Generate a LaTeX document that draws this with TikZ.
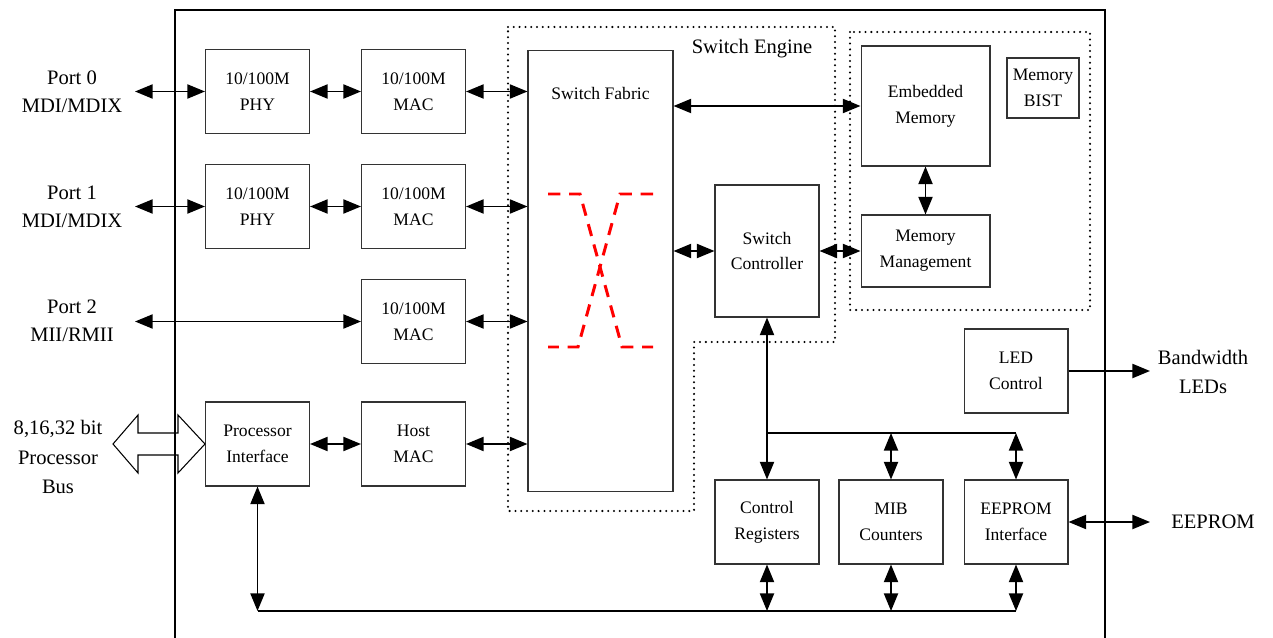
\documentclass[tikz,border=0pt]{standalone}
\usepackage{fontspec}
\setmainfont{Liberation Serif}
\usetikzlibrary{arrows.meta}

\begin{document}
\begin{tikzpicture}[x=0.02cm, y=0.02cm]
\tikzstyle{every node}+=[inner sep=0pt]
\tikzstyle{blk}=[draw=black!80, line width=0.6pt, minimum width=2.08cm, minimum height=1.68cm, align=center, font=\fontsize{10}{14.7}\selectfont]
\tikzstyle{lbl}=[align=center, font=\fontsize{11.7}{16}\selectfont]
\tikzstyle{link}=[line width=1pt, {Triangle[length=10pt,width=8pt]}-{Triangle[length=10pt,width=8pt]}]
\tikzstyle{dots}=[line width=1.3pt, dash pattern=on 0pt off 3.3pt, line cap=round]
\tikzstyle{xline}=[red, line width=1.7pt, dash pattern=on 7pt off 5pt]
\useasboundingbox (0,0) rectangle (1273,-638);
\draw [black, line width=1.2pt] (175,-638) -- (175,-10) -- (1105,-10) -- (1105,-638);
\draw [dots] (508,-27) -- (835,-27) -- (835,-342) -- (694,-342) -- (694,-511) -- (508,-511) -- cycle;
\draw [dots] (850,-32) rectangle (1090,-310);
\node [lbl] (engine) at (752,-49) {Switch Engine};
\node [blk] (phy0) at (257.5,-91.5) {10/100M\\PHY};
\node [blk] (mac0) at (413.5,-91.5) {10/100M\\MAC};
\node [blk] (phy1) at (257.5,-206.5) {10/100M\\PHY};
\node [blk] (mac1) at (413.5,-206.5) {10/100M\\MAC};
\node [blk] (mac2) at (413.5,-321.5) {10/100M\\MAC};
\node [blk] (proc) at (257.5,-444) {Processor\\Interface};
\node [blk] (host) at (413.5,-444) {Host\\MAC};
\node [blk, minimum width=2.9cm, minimum height=8.84cm] (fabric) at (600.5,-271) {};
\node [font=\fontsize{10}{12}\selectfont] (fabtitle) at (600.5,-93) {Switch Fabric};
\node [blk, minimum height=2.64cm] (ctrl) at (767,-251) {Switch\\Controller};
\node [blk, minimum width=2.58cm, minimum height=2.4cm] (emb) at (925.5,-106) {Embedded\\Memory};
\node [blk, minimum width=1.44cm, minimum height=1.2cm] (bist) at (1043,-88) {Memory\\BIST};
\node [blk, minimum width=2.58cm, minimum height=1.44cm] (mm) at (925.5,-251) {Memory\\Management};
\node [blk] (led) at (1016,-371) {LED\\Control};
\node [blk] (creg) at (767,-522) {Control\\Registers};
\node [blk] (mib) at (891,-522) {MIB\\Counters};
\node [blk] (eep) at (1016,-522) {EEPROM\\Interface};
\node [lbl] (port0) at (72,-92) {Port 0\\MDI/MDIX};
\node [lbl] (port1) at (72,-207) {Port 1\\MDI/MDIX};
\node [lbl] (port2) at (72,-321) {Port 2\\MII/RMII};
\node [lbl, font=\fontsize{11.7}{17}\selectfont] (pbus) at (58,-457) {8,16,32 bit\\Processor\\Bus};
\node [lbl] (bwled) at (1203,-372) {Bandwidth\\LEDs};
\node [lbl] (eepext) at (1213,-522) {EEPROM};
% free ends
\coordinate (p0) at (135,-91.5);
\coordinate (p1) at (135,-206.5);
\coordinate (p2) at (135,-321.5);
\coordinate (ledout) at (1150,-371);
\coordinate (eepout) at (1150,-522);
\coordinate (busa) at (1016,-433);
\coordinate (busl) at (257.5,-611);
\coordinate (busr) at (1016,-611);
% ports
\draw [link] (p0) -- (phy0);
\draw [link] (phy0) -- (mac0);
\draw [link] (mac0) -- (mac0 -| fabric.west);
\draw [link] (p1) -- (phy1);
\draw [link] (phy1) -- (mac1);
\draw [link] (mac1) -- (mac1 -| fabric.west);
\draw [link] (p2) -- (mac2);
\draw [link] (mac2) -- (mac2 -| fabric.west);
\draw [link] (proc) -- (host);
\draw [link] (host) -- (host -| fabric.west);
% processor bus
\draw [line width=0.6pt] (113,-444) -- (138,-415) -- (138,-433) -- (178,-433) -- (178,-415) -- (proc.west) -- (178,-473) -- (178,-455) -- (138,-455) -- (138,-473) -- cycle;
% switch engine and memory
\draw [link] (fabric.east |- emb) -- (emb);
\draw [link] (fabric.east |- ctrl) -- (ctrl);
\draw [link] (ctrl) -- (mm);
\draw [link] (emb) -- (mm);
\draw [xline] (548,-194) -- (580,-194) -- (622,-347) -- (653,-347);
\draw [xline] (653,-194) -- (620,-194) -- (578,-347) -- (548,-347);
% management
\draw [link] (ctrl) -- (creg);
\draw [line width=1pt] (ctrl |- busa) -- (busa);
\draw [link] (mib |- busa) -- (mib);
\draw [link] (busa) -- (eep);
\draw [line width=1pt, -{Triangle[length=10pt,width=8pt]}] (led) -- (ledout);
\draw [link] (eep) -- (eepout);
\draw [line width=1pt] (busl) -- (busr);
\draw [link] (proc) -- (busl);
\draw [link] (creg) -- (creg |- busl);
\draw [link] (mib) -- (mib |- busl);
\draw [link] (eep) -- (busr);
\end{tikzpicture}
\end{document}
